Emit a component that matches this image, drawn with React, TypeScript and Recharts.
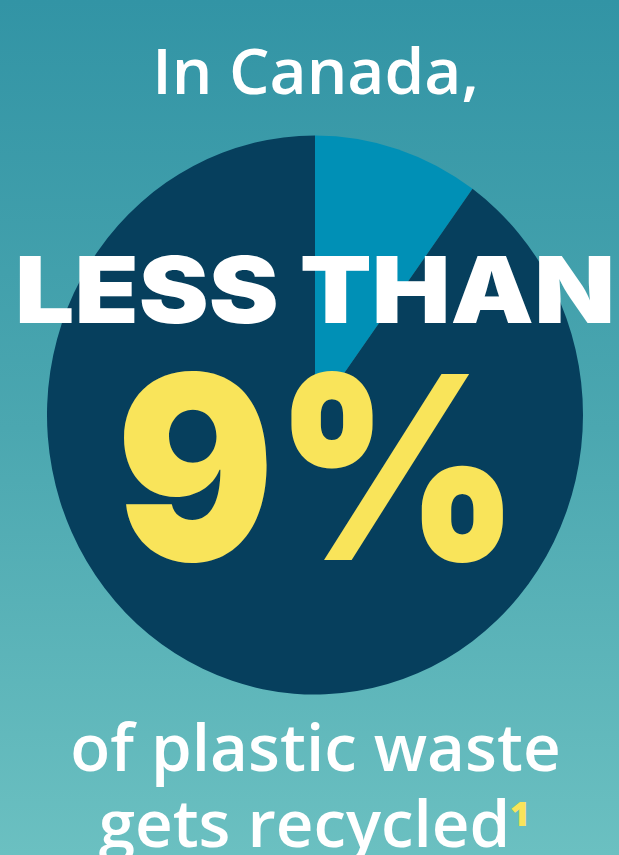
import React from 'react';
import { PieChart, Pie, Cell } from 'recharts';

// share of plastic waste, in percent, as the slices are drawn
const categories = ['Recycled', 'Not recycled'];
const shares = [10, 90];
const sliceColors = ['#0090b6', '#063f5d'];

const headline = 'In Canada,';
const bigLabel = 'LESS THAN';
const bigValue = '9%';
const footLines = ['of plastic waste', 'gets recycled'];
const footnote = '1';

const data = categories.map((name, i) => ({ name, value: shares[i] }));

const W = 619;
const H = 855;

export default function App() {
  return (
    <div
      style={{
        position: 'absolute',
        left: 0,
        top: 0,
        width: W,
        height: H,
        overflow: 'hidden',
        background: 'linear-gradient(to bottom, #3294a5 0%, #4ba7b0 50%, #6bc0c1 100%)',
      }}
    >
      <div
        style={{
          position: 'absolute',
          left: 35.3,
          top: 134.5,
          width: 560,
          height: 560,
          transform: 'scale(1, 1.043)',
          transformOrigin: '50% 50%',
        }}
      >
        <PieChart width={560} height={560} margin={{ top: 0, right: 0, bottom: 0, left: 0 }}>
          <Pie
            data={data}
            dataKey="value"
            nameKey="name"
            cx={280}
            cy={280}
            outerRadius={268}
            innerRadius={0}
            startAngle={90}
            endAngle={-270}
            stroke="none"
            isAnimationActive={false}
          >
            {data.map((entry, index) => (
              <Cell key={`cell-${index}`} fill={sliceColors[index]} />
            ))}
          </Pie>
        </PieChart>
      </div>

      <svg width={W} height={H} style={{ position: 'absolute', left: 0, top: 0 }}>
        <text
          x={315.5}
          y={94}
          textAnchor="middle"
          fill="#ffffff"
          fontFamily="'Open Sans', sans-serif"
          fontWeight={600}
          fontSize={64}
        >
          {headline}
        </text>
        <text
          x={15}
          y={323}
          fill="#ffffff"
          fontFamily="Inter, sans-serif"
          fontWeight={900}
          fontSize={92}
          textLength={600}
          lengthAdjust="spacingAndGlyphs"
        >
          {bigLabel}
        </text>
        <text
          x={116}
          y={560}
          fill="#f9e45a"
          fontFamily="Inter, sans-serif"
          fontWeight={900}
          fontSize={256}
          textLength={404}
          lengthAdjust="spacingAndGlyphs"
        >
          {bigValue}
        </text>
        <text
          x={315.5}
          y={771}
          textAnchor="middle"
          fill="#ffffff"
          fontFamily="'Open Sans', sans-serif"
          fontWeight={600}
          fontSize={65.5}
        >
          {footLines[0]}
        </text>
        <text
          x={304.5}
          y={847}
          textAnchor="middle"
          fill="#ffffff"
          fontFamily="'Open Sans', sans-serif"
          fontWeight={600}
          fontSize={65.5}
        >
          {footLines[1]}
        </text>
        <text
          x={510}
          y={826}
          fill="#f9e45a"
          fontFamily="'Open Sans', sans-serif"
          fontWeight={800}
          fontSize={34}
        >
          {footnote}
        </text>
      </svg>
    </div>
  );
}
